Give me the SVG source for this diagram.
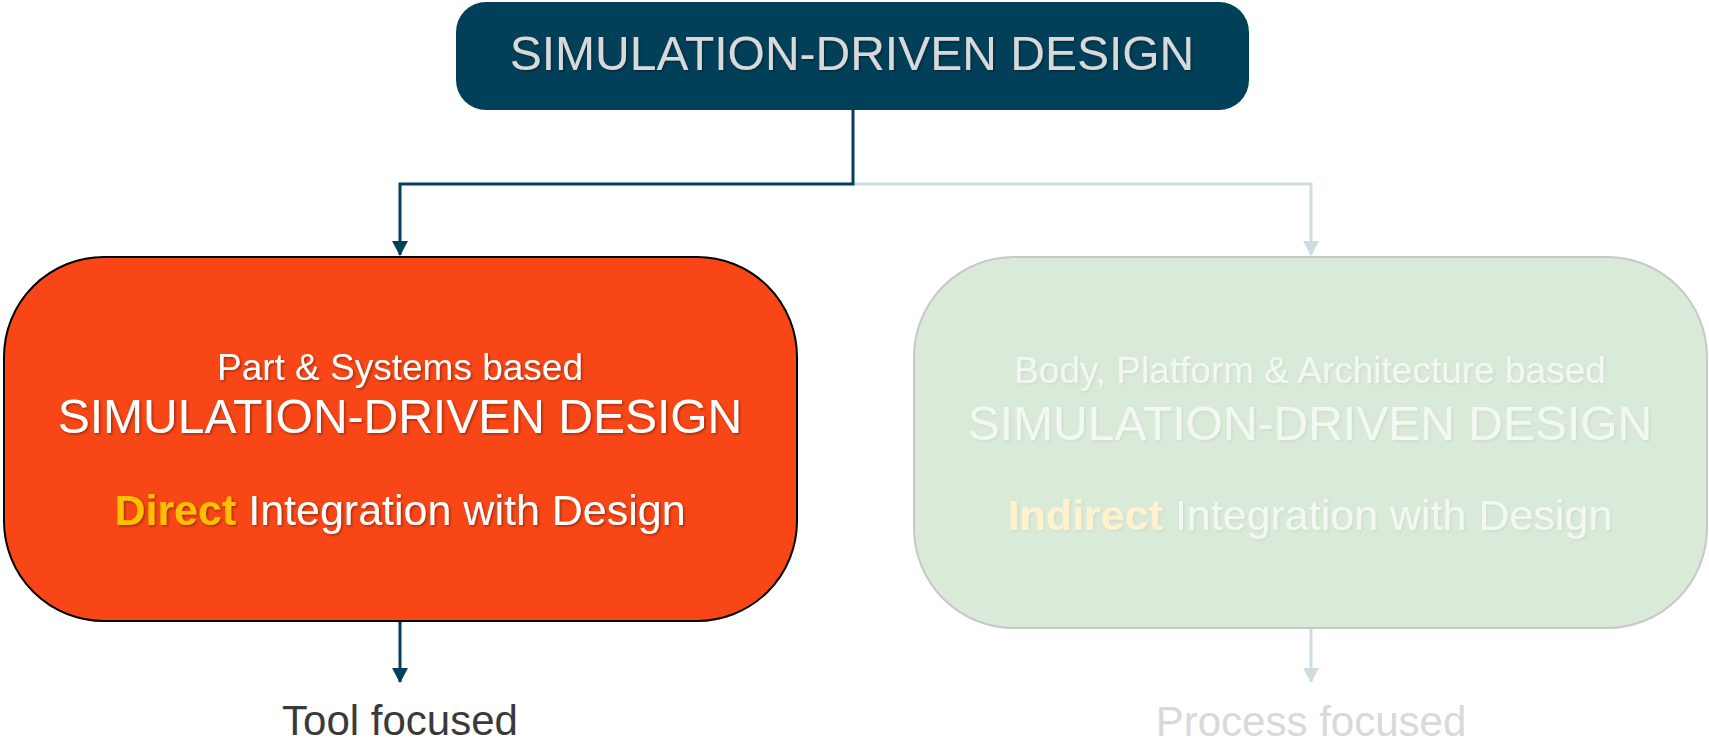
<svg xmlns="http://www.w3.org/2000/svg" width="1709" height="742" viewBox="0 0 1709 742">
<style>
text{font-family:"Liberation Sans",Arial,sans-serif;text-anchor:middle}
.sh{filter:url(#ts)}
.shl{filter:url(#tsl)}
.cd{fill:none;stroke:#02405A;stroke-width:3;marker-end:url(#ad)}
.cl{fill:none;stroke:#CFDDE2;stroke-width:3;marker-end:url(#al)}
.lt{fill:#F4F8F3}
</style>
<defs>
<filter id="ts" x="-10%" y="-30%" width="120%" height="160%">
<feDropShadow dx="1.5" dy="1.5" stdDeviation="1" flood-color="#000" flood-opacity="0.35"/>
</filter>
<filter id="tsl" x="-10%" y="-30%" width="120%" height="160%">
<feDropShadow dx="1.5" dy="1.5" stdDeviation="1" flood-color="#000" flood-opacity="0.06"/>
</filter>
<marker id="ad" viewBox="0 0 15 16" refX="14" refY="8" markerWidth="15" markerHeight="16" markerUnits="userSpaceOnUse" orient="auto">
<path d="M0,0 L15,8 L0,16 Z" fill="#02405A"/>
</marker>
<marker id="al" viewBox="0 0 15 16" refX="14" refY="8" markerWidth="15" markerHeight="16" markerUnits="userSpaceOnUse" orient="auto">
<path d="M0,0 L15,8 L0,16 Z" fill="#CFDDE2"/>
</marker>
</defs>
<g id="connectors">
<path class="cl" d="M853,184 H1311 V255"/>
<path class="cd" d="M853,110 V184 H400 V255"/>
<path class="cd" d="M400,621 V682"/>
<path class="cl" d="M1311,629 V682"/>
</g>
<g id="top">
<rect x="456" y="2" width="793" height="108" rx="30" ry="30" fill="#02405A"/>
<text class="sh" x="852" y="70" font-size="48" fill="#D9D9D9">SIMULATION-DRIVEN DESIGN</text>
</g>
<g id="left">
<rect x="4" y="257" width="793" height="364" rx="100" ry="100" fill="#F94616" stroke="#000" stroke-width="2"/>
<text class="sh" x="400" y="380" font-size="37" fill="#FFFFFF">Part &amp; Systems based</text>
<text class="sh" x="400" y="433" font-size="48" fill="#FFFFFF">SIMULATION-DRIVEN DESIGN</text>
<text class="sh" x="400" y="525" font-size="43" fill="#FFFFFF"><tspan font-weight="bold" fill="#FFC000">Direct</tspan> Integration with Design</text>
</g>
<g id="right">
<rect x="914" y="257" width="793" height="371" rx="100" ry="100" fill="#DAEAD8" stroke="#C8C8C8" stroke-width="2"/>
<text class="shl lt" x="1310" y="383" font-size="37">Body, Platform &amp; Architecture based</text>
<text class="shl lt" x="1310" y="440" font-size="48">SIMULATION-DRIVEN DESIGN</text>
<text class="shl lt" x="1310" y="530" font-size="43"><tspan font-weight="bold" fill="#FFF2CC">Indirect</tspan> Integration with Design</text>
</g>
<g id="tool">
<text x="400" y="735" font-size="42" fill="#3A3A3A">Tool focused</text>
</g>
<g id="process">
<text x="1311" y="736" font-size="42" fill="#D9D9D9">Process focused</text>
</g>
</svg>
